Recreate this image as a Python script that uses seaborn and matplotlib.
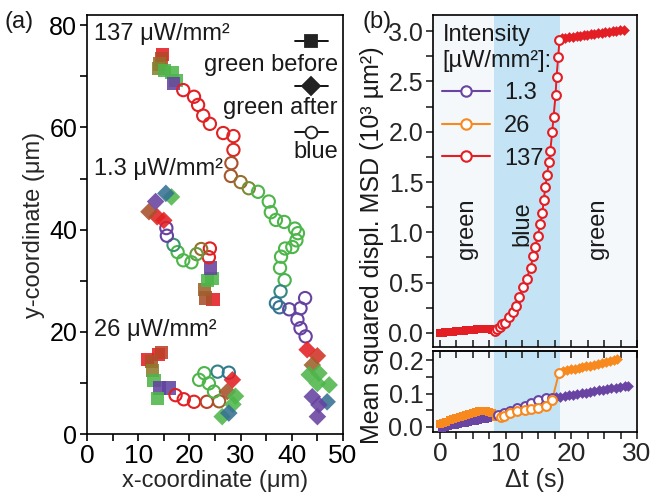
import matplotlib
matplotlib.use("Agg")
import matplotlib.pyplot as plt
import numpy as np
import pandas as pd
import seaborn as sns
from matplotlib.colors import LinearSegmentedColormap
from matplotlib.lines import Line2D
from matplotlib.ticker import MultipleLocator, FormatStrFormatter

sns.set_theme(style="ticks")
plt.rcParams['font.family'] = ['Liberation Sans', 'DejaVu Sans']
plt.rcParams['axes.linewidth'] = 1.2
plt.rcParams['text.color'] = '#1a1a1a'

# ---------------- panel (a): trajectories ----------------
# 137 uW/mm2
t137_before_x = [14.8, 14.5, 14.1, 14.0, 15.2, 16.6, 17.4, 16.9]
t137_before_y = [74.2, 73.4, 72.4, 71.5, 71.2, 70.8, 69.2, 68.6]
t137_before_c = [0.0, 0.22, 0.33, 0.40, 0.52, 0.58, 0.62, 1.0]
t137_blue_x = [18.8, 20.9, 21.7, 22.7, 24.0, 26.6, 28.6, 28.6, 28.2, 28.1, 30.0, 31.6, 33.4,
               35.5, 35.9, 36.9, 38.5, 40.6, 41.2, 40.9, 40.1, 38.7, 37.9, 37.7, 38.6, 37.8,
               36.9, 37.6, 39.5, 41.7, 42.6, 41.1, 41.7, 42.7]
t137_blue_y = [67.3, 66.0, 64.4, 62.3, 60.7, 58.9, 58.3, 55.6, 53.0, 50.5, 49.3, 48.1, 47.4,
               45.5, 43.4, 41.9, 41.5, 40.2, 39.3, 37.9, 36.6, 36.3, 34.7, 32.5, 30.1, 27.9,
               25.6, 24.8, 24.4, 24.6, 26.6, 22.4, 20.7, 19.1]
t137_blue_c = [0.0, 0.0, 0.02, 0.03, 0.04, 0.05, 0.06, 0.1, 0.25, 0.28, 0.35, 0.42, 0.5,
               0.55, 0.56, 0.57, 0.58, 0.58, 0.59, 0.6, 0.6, 0.61, 0.62, 0.63, 0.66, 0.75,
               0.78, 0.8, 0.92, 0.95, 0.97, 0.98, 0.99, 1.0]
t137_after_x = [43.0, 45.0, 44.0, 43.4, 45.3, 45.0, 47.3, 44.0, 46.9, 45.3, 45.0]
t137_after_y = [16.5, 15.3, 13.5, 11.6, 11.9, 9.9, 9.6, 7.3, 6.3, 5.7, 3.4]
t137_after_c = [0.0, 0.15, 0.3, 0.5, 0.55, 0.58, 0.6, 0.95, 0.8, 1.0, 1.0]

# 1.3 uW/mm2
t13_before_x = [24.6, 23.2, 23.0, 23.6, 24.4, 24.2]
t13_before_y = [26.4, 26.6, 28.2, 30.0, 30.4, 32.5]
t13_before_c = [0.0, 0.25, 0.3, 0.55, 0.58, 1.0]
t13_blue_x = [24.0, 23.8, 22.3, 21.4, 20.4, 18.8, 17.7, 16.9, 15.6, 15.5]
t13_blue_y = [36.3, 34.6, 36.2, 35.2, 33.6, 34.0, 35.6, 37.0, 38.8, 40.3]
t13_blue_c = [0.0, 0.05, 0.35, 0.45, 0.55, 0.6, 0.62, 0.72, 0.95, 1.0]
t13_after_x = [15.0, 13.7, 12.1, 16.5, 13.4, 15.4]
t13_after_y = [41.8, 42.5, 43.5, 46.4, 45.5, 47.1]
t13_after_c = [0.0, 0.05, 0.25, 0.6, 1.0, 0.8]

# 26 uW/mm2
t26_before_x = [11.8, 13.9, 14.5, 12.6, 12.8, 13.1, 14.1, 16.0, 13.7]
t26_before_y = [14.6, 15.6, 16.0, 14.2, 12.5, 10.4, 9.0, 9.0, 7.0]
t26_before_c = [0.0, 0.02, 0.2, 0.25, 0.38, 0.55, 0.95, 0.9, 0.58]
t26_blue_x = [17.3, 18.9, 20.9, 23.4, 25.8, 24.8, 23.8, 21.9, 22.9, 25.5, 27.7]
t26_blue_y = [7.6, 6.8, 6.3, 6.3, 6.4, 8.3, 9.9, 10.6, 11.9, 12.2, 12.0]
t26_blue_c = [0.0, 0.02, 0.05, 0.2, 0.28, 0.5, 0.55, 0.56, 0.58, 0.76, 0.78]
t26_after_x = [28.4, 27.4, 29.0, 28.5, 26.4, 27.7]
t26_after_y = [10.6, 8.3, 7.4, 5.8, 3.4, 4.1]
t26_after_c = [0.0, 0.25, 0.55, 0.58, 0.6, 0.8]

# ---------------- panel (b): MSD vs lag time ----------------
red_before_t = [0, 0.4, 0.8, 1.2, 1.6, 2.0, 2.4, 2.8, 3.2, 3.6, 4.0, 4.4, 4.8, 5.2, 5.6, 6.0,
                6.4, 6.8, 7.2, 7.6, 8.0]
red_before_v = [0.000, 0.003, 0.006, 0.008, 0.011, 0.013, 0.016, 0.018, 0.021, 0.023, 0.026,
                0.028, 0.031, 0.033, 0.036, 0.038, 0.041, 0.043, 0.040, 0.034, 0.030]
red_blue_t = [8.33, 8.7, 9.1, 9.45, 9.95, 10.5, 11.1, 11.6, 12.1, 12.7, 13.2, 13.8, 14.2, 14.5,
              14.9, 15.25, 15.6, 15.8, 16.05, 16.3, 16.6, 16.8, 17.1, 17.3, 17.6, 17.75, 18.0, 18.2]
red_blue_v = [0.02, 0.04, 0.06, 0.09, 0.10, 0.16, 0.21, 0.27, 0.36, 0.46, 0.54, 0.65, 0.76, 0.85,
              0.96, 1.08, 1.19, 1.32, 1.45, 1.57, 1.70, 1.81, 2.00, 2.15, 2.36, 2.54, 2.74, 2.91]
red_after_t = [18.6, 19.1, 19.7, 20.2, 20.8, 21.3, 21.9, 22.4, 23.0, 23.5, 24.1, 24.6, 25.2,
               25.7, 26.3, 26.8, 27.4, 28.0]
red_after_v = [2.93, 2.93, 2.94, 2.94, 2.95, 2.95, 2.96, 2.96, 2.97, 2.97, 2.98, 2.98, 2.99,
               2.99, 3.00, 3.00, 3.01, 3.01]

orange_before_t = [0, 0.5, 1.0, 1.5, 2.0, 2.5, 3.0, 3.5, 4.0, 4.5, 5.0, 5.5, 6.0, 6.5, 7.0,
                   7.5, 8.0, 8.5]
orange_before_v = [0.008, 0.012, 0.016, 0.020, 0.024, 0.028, 0.031, 0.034, 0.037, 0.040, 0.043,
                   0.045, 0.047, 0.048, 0.048, 0.046, 0.043, 0.030]
orange_blue_t = [9.3, 9.7, 10.7, 11.7, 12.9, 13.9, 14.9, 16.1, 17.1, 18.1]
orange_blue_v = [0.030, 0.033, 0.041, 0.047, 0.052, 0.055, 0.058, 0.062, 0.082, 0.160]
orange_after_t = [18.7, 19.3, 19.9, 20.5, 21.1, 21.7, 22.3, 22.9, 23.5, 24.1, 24.7, 25.3, 25.9,
                  26.5, 27.0]
orange_after_v = [0.167, 0.170, 0.172, 0.174, 0.176, 0.178, 0.181, 0.183, 0.186, 0.188, 0.191,
                  0.193, 0.196, 0.199, 0.202]

purple_before_t = [0.3, 0.8, 1.3, 1.8, 2.3, 2.8, 3.3, 3.8, 4.3, 4.8, 5.3, 5.8, 6.3, 6.8, 7.3,
                   7.8, 8.3]
purple_before_v = [-0.003, 0.000, 0.003, 0.005, 0.007, 0.009, 0.011, 0.013, 0.015, 0.017, 0.019,
                   0.021, 0.023, 0.025, 0.027, 0.029, 0.031]
purple_blue_t = [8.8, 9.7, 10.7, 11.7, 12.9, 13.9, 14.9, 16.1, 17.1]
purple_blue_v = [0.036, 0.043, 0.049, 0.056, 0.064, 0.072, 0.080, 0.087, 0.087]
purple_after_t = [17.7, 18.3, 19.0, 19.6, 20.3, 20.9, 21.6, 22.2, 22.9, 23.5, 24.2, 24.8, 25.5,
                  26.1, 26.8, 27.4, 28.1, 28.7]
purple_after_v = [0.089, 0.091, 0.093, 0.095, 0.097, 0.099, 0.101, 0.103, 0.105, 0.107, 0.109,
                  0.111, 0.113, 0.115, 0.117, 0.119, 0.121, 0.123]

phase_blue_start, phase_blue_end = 8.2, 18.3

# ---------------- styling ----------------
traj_cmap = LinearSegmentedColormap.from_list("traj", [
    (0.0, '#e31e24'), (0.12, '#dc2a22'), (0.25, '#a8502b'), (0.38, '#8f7a2c'),
    (0.5, '#4fb44a'), (0.65, '#4cb74a'), (0.78, '#2e7a90'), (0.9, '#5f45a0'), (1.0, '#6842a0')])
RED, ORANGE, PURPLE = '#e31e24', '#f7891f', '#6a44a3'
FS = 17
FS_XT = 19
FS_YT = 18

fig = plt.figure(figsize=(6.52, 4.96), dpi=100)
ax_a = fig.add_axes([87/652, 1-434/496, 256/652, 419/496])
ax_b1 = fig.add_axes([433/652, 1-347/496, 204/652, 332/496])
ax_b2 = fig.add_axes([433/652, 1-432/496, 204/652, 81/496])

# ---- panel (a)
trajs = [
    (t137_before_x, t137_before_y, t137_before_c, t137_blue_x, t137_blue_y, t137_blue_c,
     t137_after_x, t137_after_y, t137_after_c),
    (t13_before_x, t13_before_y, t13_before_c, t13_blue_x, t13_blue_y, t13_blue_c,
     t13_after_x, t13_after_y, t13_after_c),
    (t26_before_x, t26_before_y, t26_before_c, t26_blue_x, t26_blue_y, t26_blue_c,
     t26_after_x, t26_after_y, t26_after_c),
]
for (bx, by, bc, ox, oy, oc, dx, dy, dc) in trajs:
    sns.scatterplot(x=bx, y=by, hue=bc, palette=traj_cmap, hue_norm=(0, 1), marker='s',
                    s=90, linewidth=0, alpha=0.88, legend=False, ax=ax_a)
    sns.scatterplot(x=ox, y=oy, hue=oc, palette=traj_cmap, hue_norm=(0, 1), marker='o',
                    s=78, legend=False, ax=ax_a)
    coll = ax_a.collections[-1]
    fc = coll.get_facecolors()
    coll.set_edgecolors(fc)
    coll.set_facecolors('none')
    coll.set_linewidths(1.5)
    sns.scatterplot(x=dx, y=dy, hue=dc, palette=traj_cmap, hue_norm=(0, 1), marker='D',
                    s=80, linewidth=0, alpha=0.88, legend=False, ax=ax_a)

ax_a.set_xlim(0, 50)
ax_a.set_ylim(0, 82)
ax_a.xaxis.set_major_locator(MultipleLocator(10))
ax_a.xaxis.set_minor_locator(MultipleLocator(5))
ax_a.yaxis.set_major_locator(MultipleLocator(20))
ax_a.yaxis.set_minor_locator(MultipleLocator(10))
ax_a.tick_params(which='both', direction='out', length=5, width=1.2,
                 top=False, right=False, colors='black')
ax_a.tick_params(axis='x', labelsize=FS_XT, pad=2)
ax_a.tick_params(axis='y', labelsize=FS_YT, pad=2)
for s in ax_a.spines.values():
    s.set_visible(True); s.set_color('black'); s.set_linewidth(1.2)
ax_a.set_xlabel('x-coordinate (μm)', fontsize=FS, labelpad=2)
ax_a.set_ylabel('y-coordinate (μm)', fontsize=FS, labelpad=3)
ax_a.text(1.4, 78.2, '137 μW/mm²', fontsize=FS, va='center', ha='left')
ax_a.text(1.4, 51.8, '1.3 μW/mm²', fontsize=FS, va='center', ha='left')
ax_a.text(1.4, 20.4, '26 μW/mm²', fontsize=FS, va='center', ha='left')

# custom legend (handle above text)
leg_items = [('s', 'none', 'green before', 0.938, 0.881),
             ('D', 'none', 'green after', 0.830, 0.778),
             ('o', 'white', 'blue', 0.721, 0.673)]
for mk, face, lab, hy, ty in leg_items:
    ln = Line2D([0.8125, 0.941], [hy, hy], transform=ax_a.transAxes, color='black', lw=1.3)
    ax_a.add_line(ln)
    mkr = Line2D([0.8767], [hy], transform=ax_a.transAxes, marker=mk, ms=8.5 if mk != 'D' else 9,
                 mfc=('#222222' if face == 'none' else 'white'), mec='#222222', mew=1.3, lw=0)
    ax_a.add_line(mkr)
    ax_a.text(0.98, ty, lab, transform=ax_a.transAxes, fontsize=FS, ha='right', va='center')

# ---- panel (b)
series = [
    ('1.3', PURPLE, purple_before_t, purple_before_v, purple_blue_t, purple_blue_v,
     purple_after_t, purple_after_v, ax_b2),
    ('26', ORANGE, orange_before_t, orange_before_v, orange_blue_t, orange_blue_v,
     orange_after_t, orange_after_v, ax_b2),
    ('137', RED, red_before_t, red_before_v, red_blue_t, red_blue_v,
     red_after_t, red_after_v, ax_b1),
]
for ax in (ax_b1, ax_b2):
    ax.set_facecolor('#f5f8fb')
    ax.axvspan(phase_blue_start, phase_blue_end, color='#c4e4f6', lw=0, zorder=0)

for name, col, bt, bv, ot, ov, dt, dv, ax in series:
    df = pd.DataFrame({'t': bt + ot + dt, 'v': bv + ov + dv})
    sns.lineplot(data=df, x='t', y='v', sort=False, estimator=None, color=col, lw=1.4, ax=ax)
    sns.scatterplot(x=bt, y=bv, marker='s', color=col, s=28, linewidth=0, ax=ax, zorder=3)
    sns.scatterplot(x=ot, y=ov, marker='o', color='white', edgecolor=col, s=40, linewidth=1.5,
                    ax=ax, zorder=4)
    sns.scatterplot(x=dt, y=dv, marker='D', color=col, s=30, linewidth=0, ax=ax, zorder=3)

for ax in (ax_b1, ax_b2):
    ax.set_xlim(-1.05, 30)
    ax.xaxis.set_major_locator(MultipleLocator(10))
    ax.xaxis.set_minor_locator(MultipleLocator(2.5))
    for s in ax.spines.values():
        s.set_visible(True); s.set_color('black'); s.set_linewidth(1.2)
    ax.set_xlabel('')
    ax.set_ylabel('')

ax_b1.set_ylim(-0.14, 3.16)
ax_b1.yaxis.set_major_locator(MultipleLocator(0.5))
ax_b1.yaxis.set_minor_locator(MultipleLocator(0.25))
ax_b1.yaxis.set_major_formatter(FormatStrFormatter('%.1f'))
ax_b1.tick_params(axis='x', which='both', direction='in', length=5, width=1.2, labelbottom=False,
                  top=False, bottom=True)
ax_b1.tick_params(axis='y', which='both', direction='out', length=5, width=1.2, labelsize=FS_YT,
                  right=False, pad=2)

ax_b2.set_ylim(-0.015, 0.227)
ax_b2.yaxis.set_major_locator(MultipleLocator(0.1))
ax_b2.yaxis.set_minor_locator(MultipleLocator(0.05))
ax_b2.yaxis.set_major_formatter(FormatStrFormatter('%.1f'))
ax_b2.tick_params(axis='x', which='both', direction='out', length=5, width=1.2, labelsize=FS_XT,
                  top=False, pad=2)
ax_b2.tick_params(axis='y', which='both', direction='out', length=5, width=1.2, labelsize=FS_YT,
                  right=False, pad=2)
sec = ax_b2.secondary_xaxis('top')
sec.xaxis.set_major_locator(MultipleLocator(2.5))
sec.tick_params(axis='x', direction='in', length=5, width=1.2, labeltop=False)
ax_b2.set_xlabel('Δt (s)', fontsize=FS + 1, labelpad=2)

ax_b1.text(4.1, 1.04, 'green', rotation=90, fontsize=FS, ha='center', va='center')
ax_b1.text(12.6, 1.09, 'blue', rotation=90, fontsize=FS, ha='center', va='center')
ax_b1.text(24.1, 1.04, 'green', rotation=90, fontsize=FS, ha='center', va='center')

handles = [Line2D([], [], color=c, lw=1.5, marker='o', mfc='white', mec=c, mew=1.5, ms=7.5)
           for c in (PURPLE, ORANGE, RED)]
leg = ax_b1.legend(handles, ['1.3', '26', '137'], title='Intensity\n[µW/mm²]:', loc='upper left',
                   frameon=False, fontsize=FS, title_fontsize=FS, handlelength=2.0,
                   alignment='left', borderaxespad=0.2, labelspacing=0.45, handletextpad=0.6,
                   borderpad=0.2)

fig.text(372/652, 0.505, 'Mean squared displ. MSD (10³ µm²)', rotation=90, fontsize=FS + 1,
         ha='center', va='center')
fig.text(5/652, 1-22/496, '(a)', fontsize=FS, ha='left', va='center')
fig.text(362/652, 1-22/496, '(b)', fontsize=FS, ha='left', va='center')

fig.savefig('out.png', dpi=100)
